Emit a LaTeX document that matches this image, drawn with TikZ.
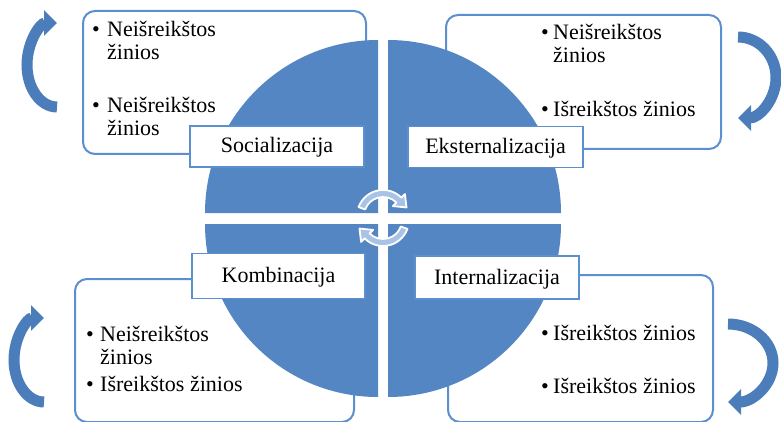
\documentclass[tikz,border=0pt]{standalone}
\usepackage{fontspec}
\setmainfont{Liberation Serif}
\usetikzlibrary{arrows.meta}
\definecolor{qblue}{HTML}{5486C4}
\definecolor{bblue}{HTML}{5B8FD0}
\definecolor{cfill}{HTML}{A9C3E6}
\definecolor{ablue}{HTML}{4A7DBA}
\begin{document}
\begin{tikzpicture}[x=1pt,y=-1pt,
 txtbox/.style={draw=bblue, line width=2pt, fill=white, rounded corners=12pt, anchor=north west, inner sep=0pt},
 quad/.style={fill=qblue, draw=none},
 lbl/.style={draw=bblue, line width=1.2pt, fill=white, minimum height=41pt, inner sep=0pt,
   font=\fontsize{22}{24}\selectfont, text height=18pt, text depth=5pt},
 item/.style={anchor=base west, inner sep=0pt, font=\fontsize{22}{24}\selectfont},
 bigarrow/.style={draw=ablue, line width=11pt, -{Triangle[width=25pt,length=13pt]}},
 cyc/.style={fill=cfill, draw=white, line width=1.8pt, line join=round}
]
\useasboundingbox (0,0) rectangle (781,422);
% text boxes
\node[txtbox, minimum width=283pt, minimum height=143pt] (tlbox) at (82,10) {};
\node[txtbox, minimum width=275pt, minimum height=134pt] (trbox) at (445,14) {};
\node[txtbox, minimum width=279pt, minimum height=143pt] (blbox) at (74,278) {};
\node[txtbox, minimum width=265pt, minimum height=147pt] (brbox) at (447,274) {};
% quadrants
\fill[quad] (378,213) -- ++(180:173) arc[start angle=180,end angle=270,radius=173] -- cycle;
\fill[quad] (388,213) -- ++(0:173) arc[start angle=0,end angle=-90,radius=173] -- cycle;
\fill[quad] (378,224) -- ++(180:173) arc[start angle=180,end angle=90,radius=173] -- cycle;
\fill[quad] (388,224) -- ++(0:173) arc[start angle=0,end angle=90,radius=173] -- cycle;
% labels
\node[lbl, minimum width=174pt] (soc) at (277,146.5) {Socializacija};
\node[lbl, minimum width=175pt] (eks) at (495.5,147) {Eksternalizacija};
\node[lbl, minimum width=173pt, minimum height=45pt] (komb) at (278.5,276) {Kombinacija};
\node[lbl, minimum width=164pt, minimum height=43pt] (intl) at (497,277.5) {Internalizacija};
% centre cycle arrows
\coordinate (cT) at (383,216);
\coordinate (cB) at (383,220);
\path[cyc] ([shift={(200:26)}]cT) arc[start angle=200, end angle=315, radius=26]
  -- ([shift={(315:31)}]cT) -- ([shift={(340:25)}]cT) -- ([shift={(315:14)}]cT)
  -- ([shift={(315:19)}]cT) arc[start angle=315, end angle=200, radius=19] -- cycle;
\path[cyc] ([shift={(20:26)}]cB) arc[start angle=20, end angle=135, radius=26]
  -- ([shift={(135:31)}]cB) -- ([shift={(160:25)}]cB) -- ([shift={(135:14)}]cB)
  -- ([shift={(135:19)}]cB) arc[start angle=135, end angle=20, radius=19] -- cycle;
% big curved arrows
\draw[bigarrow] (57,107) arc[start angle=90, end angle=270, x radius=30, y radius=42];
\draw[bigarrow] (738,37) arc[start angle=270, end angle=450, x radius=38, y radius=40.5];
\draw[bigarrow] (44,402) arc[start angle=90, end angle=270, x radius=30, y radius=42];
\draw[bigarrow] (728,324) arc[start angle=270, end angle=450, x radius=45, y radius=39];
% texts top-left
\node[item] (tlb1) at (92,37) {•};
\node[item] (tlt1) at (107,37) {Neišreikštos};
\node[item] (tlt1b) at (107,60) {žinios};
\node[item] (tlb2) at (92,113) {•};
\node[item] (tlt2) at (107,113) {Neišreikštos};
\node[item] (tlt2b) at (107,136) {žinios};
% texts top-right
\node[item] (trb1) at (541,40) {•};
\node[item] (trt1) at (553,40) {Neišreikštos};
\node[item] (trt1b) at (553,63) {žinios};
\node[item] (trb2) at (541,117) {•};
\node[item] (trt2) at (553,117) {Išreikštos žinios};
% texts bottom-left
\node[item] (blb1) at (86,341) {•};
\node[item] (blt1) at (100,341) {Neišreikštos};
\node[item] (blt1b) at (100,364) {žinios};
\node[item] (blb2) at (86,391) {•};
\node[item] (blt2) at (100,391) {Išreikštos žinios};
% texts bottom-right
\node[item] (brb1) at (541,340) {•};
\node[item] (brt1) at (553,340) {Išreikštos žinios};
\node[item] (brb2) at (541,393) {•};
\node[item] (brt2) at (553,393) {Išreikštos žinios};
\end{tikzpicture}
\end{document}
